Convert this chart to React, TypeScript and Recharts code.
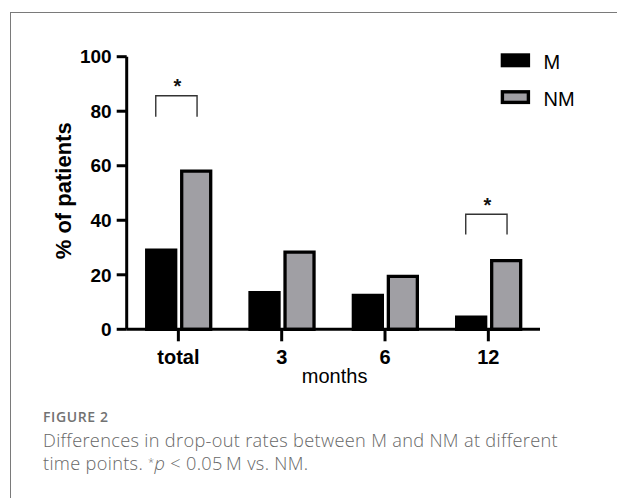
import React from 'react';
import { BarChart, Bar, XAxis, YAxis, Legend, ReferenceLine, ReferenceDot } from 'recharts';

const categories = ['total', '3', '6', '12'];
const mValues = [29, 13.4, 12.4, 4.5];
const nmValues = [58, 28.3, 19.4, 25.2];
const yTicks = [0, 20, 40, 60, 80, 100];
const seriesNames = ['M', 'NM'];
const seriesFills = ['#000000', '#a09fa4'];
const sigCategories = ['total', '12'];
const sigBracketTop = [85.7, 42.2];
const sigBracketLeg = [78, 34.8];
const sigStar = [90.8, 47.1];

const data = categories.map((c, i) => ({ month: c, M: mValues[i], NM: nmValues[i] }));

const AX_FONT = '"Liberation Sans", Arial, Helvetica, sans-serif';
const CAP_FONT = '"Open Sans", "Noto Sans", sans-serif';

const renderLegend = (props: any) => {
  const payload = props.payload || [];
  return (
    <svg width={110} height={80} style={{ overflow: 'visible', display: 'block' }}>
      {payload.map((entry: any, i: number) => {
        const idx = seriesNames.indexOf(entry.value);
        const fill = seriesFills[idx >= 0 ? idx : i];
        return (
          <g key={String(entry.value)} transform={`translate(0, ${i * 36.8})`}>
            <rect x={7.4} y={10} width={26} height={10.6} fill={fill} stroke="#000" strokeWidth={3.4} />
            <text x={48.5} y={24.3} fontSize={20} fontFamily={AX_FONT} fill="#000">
              {entry.value}
            </text>
          </g>
        );
      })}
    </svg>
  );
};

const bracketShape = (p: any) => {
  const cx = p.x1;
  return (
    <path
      d={`M${cx - 22.6},${p.y2}V${p.y1}H${cx + 18.7}V${p.y2}`}
      stroke="#333"
      strokeWidth={1.4}
      fill="none"
    />
  );
};

const starShape = (p: any) => (
  <text
    x={p.cx - 1}
    y={p.cy + 11.4}
    textAnchor="middle"
    fontSize={20}
    fontWeight="bold"
    fontFamily={AX_FONT}
    fill="#111"
  >
    *
  </text>
);

export default function App() {
  return (
    <div
      style={{
        position: 'absolute',
        left: 0,
        top: 0,
        width: 617,
        height: 498,
        overflow: 'hidden',
        background: '#fff',
      }}
    >
      <div
        style={{
          position: 'absolute',
          left: 9.5,
          top: 11.5,
          width: 800,
          height: 700,
          border: '1.5px solid #7a7a7a',
        }}
      />
      <div style={{ position: 'absolute', left: 0, top: 0 }}>
        <BarChart
          width={617}
          height={498}
          data={data}
          margin={{ top: 56.7, right: 77, bottom: 138.7, left: 66.7 }}
          barSize={29}
          barGap={6}
        >
          <XAxis
            dataKey="month"
            height={30}
            axisLine={{ stroke: '#000', strokeWidth: 3 }}
            tickLine={{ stroke: '#000', strokeWidth: 3 }}
            tickSize={12}
            tickMargin={8}
            tick={{ fill: '#000', fontSize: 20, fontWeight: 'bold', fontFamily: AX_FONT }}
            interval={0}
            label={{
              content: () => (
                <text x={334.6} y={383.3} textAnchor="middle" fontSize={20} fontFamily={AX_FONT} fill="#000">
                  months
                </text>
              ),
            }}
          />
          <YAxis
            width={60}
            domain={[0, 100]}
            ticks={yTicks}
            interval={0}
            axisLine={{ stroke: '#000', strokeWidth: 3 }}
            tickLine={{ stroke: '#000', strokeWidth: 3 }}
            tickSize={10}
            tickMargin={5}
            tick={{ fill: '#000', fontSize: 19, fontWeight: 'bold', fontFamily: AX_FONT }}
            label={{
              content: () => (
                <text
                  x={70.8}
                  y={190.8}
                  transform="rotate(-90 70.8 190.8)"
                  textAnchor="middle"
                  fontSize={22}
                  fontWeight="bold"
                  fontFamily={AX_FONT}
                  fill="#000"
                >
                  % of patients
                </text>
              ),
            }}
          />
          <Legend
            layout="vertical"
            align="left"
            verticalAlign="top"
            content={renderLegend}
            wrapperStyle={{ left: 495, top: 45, width: 0, height: 0, overflow: 'visible' }}
          />
          <Bar dataKey="M" name={seriesNames[0]} fill={seriesFills[0]} stroke="#000" strokeWidth={3.3} isAnimationActive={false} />
          <Bar dataKey="NM" name={seriesNames[1]} fill={seriesFills[1]} stroke="#000" strokeWidth={3.3} isAnimationActive={false} />
          {sigCategories.map((c, i) => (
            <ReferenceLine
              key={`br-${c}`}
              segment={[
                { x: c, y: sigBracketTop[i] },
                { x: c, y: sigBracketLeg[i] },
              ]}
              shape={bracketShape}
              ifOverflow="visible"
            />
          ))}
          {sigCategories.map((c, i) => (
            <ReferenceDot key={`st-${c}`} x={c} y={sigStar[i]} r={0} shape={starShape} ifOverflow="visible" />
          ))}
        </BarChart>
      </div>
      <div
        style={{
          position: 'absolute',
          left: 43,
          top: 409,
          fontFamily: CAP_FONT,
          fontSize: 14,
          fontWeight: 600,
          letterSpacing: 0.6,
          color: '#727272',
          lineHeight: '16px',
          whiteSpace: 'nowrap',
        }}
      >
        FIGURE 2
      </div>
      <div
        style={{
          position: 'absolute',
          left: 43,
          top: 429,
          fontFamily: CAP_FONT,
          fontSize: 18.2,
          fontWeight: 300,
          letterSpacing: 0.32,
          color: '#676767',
          lineHeight: '22.5px',
          whiteSpace: 'nowrap',
        }}
      >
        <div style={{ height: 19, marginBottom: 4, overflow: 'visible' }}>
          Differences in drop-out rates between M and NM at different
        </div>
        <div>
          time points.{' '}
          <span style={{ fontSize: 11, position: 'relative', top: -4, lineHeight: '11px' }}>*</span>
          <i>p</i> &lt; 0.05&#8201;M vs. NM.
        </div>
      </div>
    </div>
  );
}
